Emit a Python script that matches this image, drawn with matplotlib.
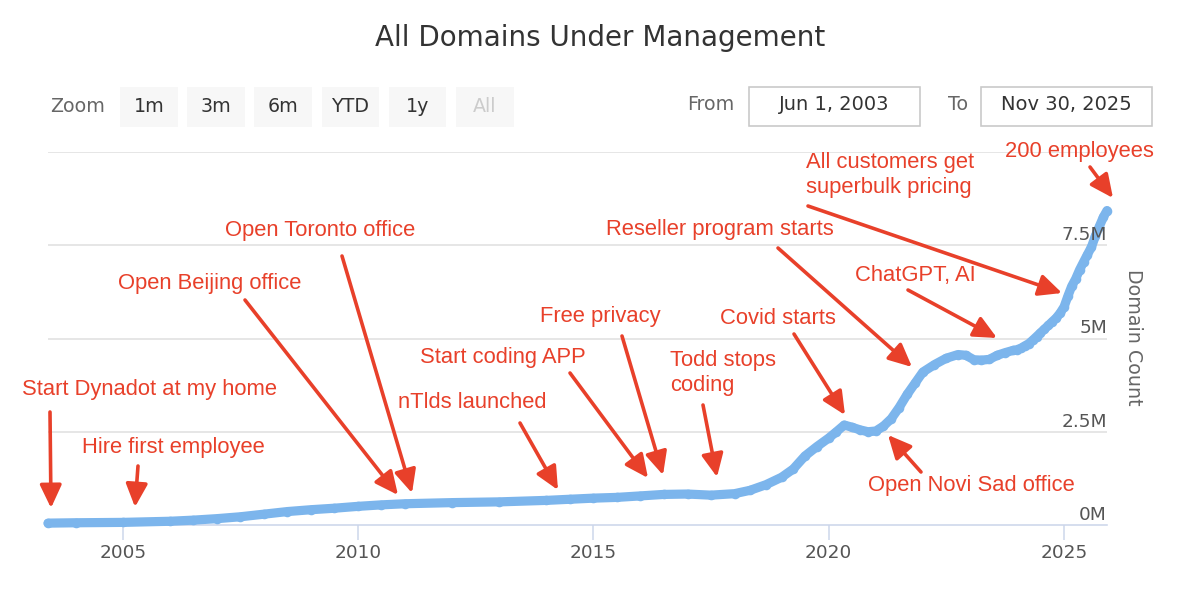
import matplotlib
matplotlib.use("Agg")
import matplotlib.pyplot as plt
import matplotlib.dates as mdates
import matplotlib.transforms as mtransforms
from matplotlib.patches import FancyArrowPatch, Rectangle
import pandas as pd

# ---------------- data ----------------
dates = [
    "2003-06-01", "2004-01-01", "2005-01-01", "2006-01-01", "2006-07-01",
    "2007-01-01", "2007-07-01", "2008-01-01", "2008-07-01", "2009-01-01",
    "2009-07-01", "2010-01-01", "2010-07-01", "2011-01-01", "2012-01-01",
    "2013-01-01", "2014-01-01", "2014-07-01", "2015-01-01", "2015-07-01",
    "2016-01-01", "2016-07-01", "2017-01-01", "2017-07-01", "2018-01-01",
    "2018-05-01", "2018-09-01", "2019-01-01", "2019-04-01", "2019-07-01",
    "2019-10-01", "2020-01-01", "2020-03-01", "2020-05-01", "2020-07-01",
    "2020-09-01", "2020-11-01", "2021-01-01", "2021-03-01", "2021-05-01",
    "2021-07-01", "2021-09-01", "2021-11-01", "2022-01-01", "2022-04-01",
    "2022-07-01", "2022-10-01", "2022-12-01", "2023-02-01", "2023-04-01",
    "2023-06-01", "2023-08-01", "2023-10-01", "2023-12-01",
    "2024-01-01", "2024-02-01", "2024-03-01", "2024-04-01", "2024-05-01",
    "2024-06-01", "2024-07-01", "2024-08-01", "2024-09-01", "2024-10-01",
    "2024-11-01", "2024-12-01",
    "2025-01-01", "2025-02-01", "2025-03-01", "2025-04-01", "2025-05-01",
    "2025-06-01", "2025-07-01", "2025-08-01", "2025-09-01", "2025-10-01",
    "2025-11-01", "2025-11-30",
]
domains_millions = [
    0.05, 0.06, 0.07, 0.10, 0.13,
    0.17, 0.22, 0.29, 0.36, 0.41,
    0.45, 0.50, 0.54, 0.57, 0.60,
    0.62, 0.66, 0.69, 0.72, 0.74,
    0.78, 0.82, 0.83, 0.80, 0.84,
    0.93, 1.08, 1.28, 1.50, 1.85,
    2.10, 2.33, 2.50, 2.68, 2.62,
    2.55, 2.50, 2.52, 2.65, 2.85,
    3.15, 3.50, 3.80, 4.10, 4.30,
    4.47, 4.57, 4.55, 4.43, 4.42,
    4.44, 4.55, 4.62, 4.68,
    4.70, 4.74, 4.80, 4.86, 4.95,
    5.05, 5.15, 5.25, 5.35, 5.45,
    5.55, 5.68,
    5.85, 6.15, 6.40, 6.60, 6.84,
    7.05, 7.25, 7.45, 7.75, 8.00,
    8.25, 8.43,
]

title = "All Domains Under Management"
zoom_buttons = ["1m", "3m", "6m", "YTD", "1y", "All"]
from_label, to_label = "From", "To"
from_date, to_date = "Jun 1, 2003", "Nov 30, 2025"
y_ticks_m = [0, 2.5, 5, 7.5]
y_tick_labels = ["0M", "2.5M", "5M", "7.5M"]
y_grid_m = [0, 2.5, 5, 7.5, 10]
x_tick_years = [2005, 2010, 2015, 2020, 2025]
y_axis_title = "Domain Count"

# annotation texts
annotation_texts = [
    "Start Dynadot at my home", "Hire first employee", "Open Beijing office",
    "Open Toronto office", "nTlds launched", "Start coding APP", "Free privacy",
    "Todd stops\ncoding", "Covid starts", "Reseller program starts",
    "ChatGPT, AI", "All customers get\nsuperbulk pricing", "200 employees",
    "Open Novi Sad office",
]
# layout (pixels, top-left origin): text left x, text centre y, arrow start, arrow tip
annotation_layout = [
    (22, 390, (50, 412), (51, 508)),
    (82, 448, (138, 466), (135, 507)),
    (118, 284, (245, 300), (398, 495)),
    (225, 231, (342, 256), (412, 493)),
    (398, 403, (520, 423), (558, 490)),
    (420, 357, (570, 373), (648, 478)),
    (540, 317, (622, 336), (663, 475)),
    (670, 373, (703, 405), (717, 477)),
    (720, 318, (794, 334), (845, 415)),
    (606, 230, (778, 248), (912, 367)),
    (855, 275, (908, 290), (997, 338)),
    (806, 175, (808, 206), (1062, 293)),
    (1005, 152, (1090, 167), (1113, 198)),
    (868, 486, (921, 472), (888, 435)),
]

# ---------------- style ----------------
W, H, DPI = 1200, 607, 100
RED = "#e8402a"
BLUE = "#7cb5ec"
UI = "DejaVu Sans"
ANN = "Liberation Sans"


def pt(px):
    return px * 72.0 / DPI


def fx(x):
    return x / W


def fy(y):
    return 1 - y / H


fig = plt.figure(figsize=(W / DPI, H / DPI), dpi=DPI)
fig.patch.set_facecolor("white")

left_px, right_px, top_px, bottom_px = 48, 1107, 152, 525
ax = fig.add_axes([fx(left_px), fy(bottom_px), (right_px - left_px) / W,
                   (bottom_px - top_px) / H])

x = pd.to_datetime(dates)
y = [v * 1e6 for v in domains_millions]

ax.plot(x, y, color=BLUE, lw=pt(9.2), solid_capstyle="round", solid_joinstyle="round",
        marker="o", markersize=pt(9.6), markeredgewidth=0, zorder=3, clip_on=False)

ax.set_xlim(pd.Timestamp(dates[0]), pd.Timestamp(dates[-1]))
ax.set_ylim(0, 10e6)

ax.set_xticks([pd.Timestamp(f"{yr}-01-01") for yr in x_tick_years])
ax.xaxis.set_major_formatter(mdates.DateFormatter("%Y"))
ax.set_yticks([])
for g in y_grid_m:
    if g > 0:
        ax.axhline(g * 1e6, color="#dedede", lw=pt(1.5), zorder=1)

for s in ["top", "left", "right"]:
    ax.spines[s].set_visible(False)
ax.spines["bottom"].set_color("#ccd6eb")
ax.spines["bottom"].set_linewidth(pt(1.6))
ax.tick_params(axis="x", direction="out", length=pt(15), width=pt(1.5),
               color="#ccd6eb", labelcolor="#555555", labelsize=pt(18.5), pad=3)
for lab in ax.get_xticklabels():
    lab.set_fontfamily(UI)

trans = mtransforms.offset_copy(ax.get_yaxis_transform(), fig=fig, x=0, y=5, units="dots")
for v, lab in zip(y_ticks_m, y_tick_labels):
    ax.text(1.0, v * 1e6, lab, transform=trans, ha="right", va="baseline",
            fontsize=pt(18.5), color="#555555", family=UI)

fig.text(fx(1133), fy(337), y_axis_title, rotation=270, ha="center", va="center",
         fontsize=pt(19), color="#666666", family=UI)

# title
fig.text(fx(600), fy(38), title, ha="center", va="center", fontsize=pt(27.8),
         color="#333333", family=UI)

# range selector
fig.text(fx(50), fy(107), "Zoom", ha="left", va="center", fontsize=pt(19),
         color="#666666", family=UI)
bx = 120
for i, b in enumerate(zoom_buttons):
    x0 = bx + i * 67.2
    fig.add_artist(Rectangle((fx(x0), fy(127)), 57.5 / W, 40 / H,
                             transform=fig.transFigure, facecolor="#f7f7f7",
                             edgecolor="none"))
    fig.text(fx(x0 + 28.75), fy(106), b, ha="center", va="center",
             fontsize=pt(19), color="#cccccc" if b == "All" else "#333333", family=UI)

fig.text(fx(734), fy(105), from_label, ha="right", va="center", fontsize=pt(19),
         color="#666666", family=UI)
fig.text(fx(968), fy(105), to_label, ha="right", va="center", fontsize=pt(19),
         color="#666666", family=UI)
for (x0, x1), txt in [((749, 920), from_date), ((981, 1152), to_date)]:
    fig.add_artist(Rectangle((fx(x0), fy(126)), (x1 - x0) / W, 39 / H,
                             transform=fig.transFigure, facecolor="white",
                             edgecolor="#c8c8c8", lw=pt(1.6)))
    fig.text(fx((x0 + x1) / 2), fy(105), txt, ha="center", va="center",
             fontsize=pt(19.5), color="#333333", family=UI)

# annotations
for txt, (tx, ty, a0, a1) in zip(annotation_texts, annotation_layout):
    fig.text(fx(tx), fy(ty), txt, ha="left", va="center", fontsize=pt(22),
             color=RED, family=ANN, linespacing=1.28)
    arr = FancyArrowPatch((fx(a0[0]), fy(a0[1])), (fx(a1[0]), fy(a1[1])),
                          transform=fig.transFigure,
                          arrowstyle="-|>,head_length=14,head_width=6.6",
                          mutation_scale=1, lw=pt(3.6), color=RED,
                          shrinkA=0, shrinkB=0, zorder=5)
    fig.add_artist(arr)

fig.savefig("out.png", dpi=DPI, facecolor="white")
